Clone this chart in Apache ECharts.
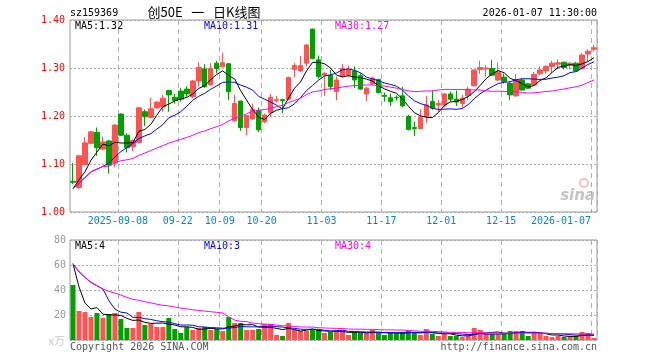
<!DOCTYPE html>
<html>
<head>
<meta charset="utf-8">
<script src="https://cdn.jsdelivr.net/npm/echarts@6/dist/echarts.min.js"></script>
<style>html,body{margin:0;padding:0;background:#fff}#c{width:660px;height:360px}</style>
</head>
<body>
<div id="c"></div>
<script>
// ---- data ----
const dates = [
'2025-08-27','2025-08-28','2025-08-29',
'2025-09-01','2025-09-02','2025-09-03','2025-09-04','2025-09-05',
'2025-09-08','2025-09-09','2025-09-10','2025-09-11','2025-09-12',
'2025-09-15','2025-09-16','2025-09-17','2025-09-18','2025-09-19',
'2025-09-22','2025-09-23','2025-09-24','2025-09-25','2025-09-26',
'2025-09-29','2025-09-30',
'2025-10-09','2025-10-10',
'2025-10-13','2025-10-14','2025-10-15','2025-10-16','2025-10-17',
'2025-10-20','2025-10-21','2025-10-22','2025-10-23','2025-10-24',
'2025-10-27','2025-10-28','2025-10-29','2025-10-30','2025-10-31',
'2025-11-03','2025-11-04','2025-11-05','2025-11-06','2025-11-07',
'2025-11-10','2025-11-11','2025-11-12','2025-11-13','2025-11-14',
'2025-11-17','2025-11-18','2025-11-19','2025-11-20','2025-11-21',
'2025-11-24','2025-11-25','2025-11-26','2025-11-27','2025-11-28',
'2025-12-01','2025-12-02','2025-12-03','2025-12-04','2025-12-05',
'2025-12-08','2025-12-09','2025-12-10','2025-12-11','2025-12-12',
'2025-12-15','2025-12-16','2025-12-17','2025-12-18','2025-12-19',
'2025-12-22','2025-12-23','2025-12-24','2025-12-25','2025-12-26',
'2025-12-29','2025-12-30','2025-12-31',
'2026-01-05','2026-01-06','2026-01-07'
];
const opens = [
1.064,1.051,1.099,1.143,1.166,1.131,1.148,1.102,1.204,1.160,
1.136,1.145,1.209,1.197,1.217,1.219,1.253,1.239,1.252,1.256,
1.240,1.273,1.298,1.265,1.310,1.303,1.309,1.190,1.231,1.176,
1.194,1.212,1.188,1.207,1.232,1.234,1.235,1.297,1.294,1.310,
1.381,1.317,1.285,1.285,1.251,1.283,1.285,1.294,1.284,1.246,
1.267,1.276,1.243,1.238,1.239,1.242,1.199,1.176,1.174,1.199,
1.230,1.223,1.223,1.246,1.235,1.226,1.242,1.263,1.297,1.298,
1.299,1.275,1.281,1.268,1.242,1.275,1.267,1.265,1.288,1.294,
1.303,1.308,1.312,1.306,1.310,1.299,1.329,1.339
];
const closes = [
1.062,1.117,1.144,1.167,1.134,1.146,1.098,1.181,1.160,1.134,
1.149,1.217,1.199,1.215,1.229,1.237,1.244,1.232,1.235,1.246,
1.273,1.301,1.261,1.299,1.299,1.311,1.251,1.226,1.176,1.201,
1.214,1.171,1.202,1.239,1.234,1.232,1.280,1.305,1.305,1.348,
1.320,1.282,1.289,1.261,1.275,1.299,1.296,1.275,1.256,1.258,
1.279,1.249,1.241,1.230,1.238,1.221,1.172,1.174,1.197,1.223,
1.216,1.226,1.246,1.235,1.229,1.237,1.256,1.296,1.301,1.300,
1.285,1.292,1.272,1.244,1.275,1.254,1.258,1.287,1.296,1.303,
1.310,1.311,1.301,1.310,1.294,1.327,1.335,1.342
];
const lows = [
1.058,1.048,1.097,1.141,1.117,1.129,1.080,1.094,1.158,1.124,
1.127,1.143,1.179,1.195,1.215,1.209,1.209,1.226,1.230,1.240,
1.237,1.261,1.259,1.263,1.289,1.301,1.233,1.188,1.169,1.160,
1.192,1.167,1.185,1.199,1.228,1.206,1.233,1.281,1.292,1.303,
1.318,1.278,1.242,1.254,1.233,1.281,1.282,1.258,1.254,1.231,
1.265,1.247,1.230,1.221,1.232,1.219,1.170,1.158,1.173,1.186,
1.213,1.209,1.218,1.230,1.221,1.218,1.233,1.261,1.288,1.282,
1.283,1.273,1.268,1.233,1.240,1.253,1.256,1.263,1.285,1.288,
1.289,1.297,1.297,1.297,1.293,1.297,1.313,1.334
];
const highs = [
1.102,1.119,1.156,1.169,1.176,1.157,1.150,1.183,1.206,1.164,
1.151,1.219,1.214,1.238,1.231,1.244,1.254,1.246,1.258,1.262,
1.275,1.312,1.308,1.310,1.315,1.332,1.310,1.244,1.232,1.202,
1.226,1.218,1.205,1.246,1.242,1.236,1.282,1.310,1.325,1.349,
1.382,1.326,1.291,1.296,1.282,1.308,1.305,1.303,1.289,1.261,
1.282,1.278,1.249,1.247,1.243,1.261,1.202,1.188,1.214,1.242,
1.254,1.233,1.248,1.251,1.253,1.244,1.261,1.297,1.315,1.306,
1.317,1.311,1.288,1.272,1.287,1.278,1.268,1.292,1.303,1.306,
1.315,1.318,1.313,1.312,1.313,1.331,1.339,1.348
];
const volumes = [
44,23.2,22.4,18.4,21.6,17.6,20.8,21.6,16.8,9.6,
9.6,22.4,12,12.8,10.4,10.4,17.6,8.8,5.6,10.4,
8,9.6,10.4,8,8.8,7.2,18.4,13.6,13.6,8,
8,8.8,12.8,12.8,4,3.2,13.6,8,7.2,7.2,
8,8,5.6,6.4,7.2,7.2,4,6.4,5.6,5.6,
8,5.6,4,5.6,5.6,6.4,7.2,5.6,4,8.8,
4.8,3.2,4.8,3.2,3.2,2.4,3.2,9.6,8,4.8,
4.8,4.8,4.8,7.2,7.2,7.2,3.2,6.4,4.8,3.2,
2.4,3.2,2.4,3.2,3.2,6.4,5.6,1.6
];
// sessions traded before the first visible day (used only by the moving averages)
const priorCloses = [1.025,1.059,1.047,1.049];
const priorVolumes = [115,88,42,16];

const tickDates  = ['2025-09-08','2025-09-22','2025-10-09','2025-10-20','2025-11-03','2025-11-17','2025-12-01','2025-12-15','2026-01-07'];
const tickLabels = ['2025-09-08','09-22','10-09','10-20','11-03','11-17','12-01','12-15','2026-01-07'];
const priceTicks = [1.00,1.10,1.20,1.30,1.40];
const volTicks = [0,20,40,60,80];
const priceMaText = ['MA5:1.32','MA10:1.31','MA30:1.27'];
const volMaText = ['MA5:4','MA10:3','MA30:4'];
const maPeriods = [5,10,30];

// ---- helpers ----
function movingAvg(vals, prior, n) {
  const all = prior.concat(vals);
  const out = [];
  for (let i = 0; i < vals.length; i++) {
    const end = prior.length + i;
    const start = Math.max(0, end - n + 1);
    let s = 0;
    for (let j = start; j <= end; j++) s += all[j];
    out.push(+(s / (end - start + 1)).toFixed(4));
  }
  return out;
}
const UP = '#ff5252', DOWN = '#00a000';
const maColors = ['#000000','#0000ff','#ff00ff'];
const MONO = 'DejaVu Sans Mono';

const kData = opens.map((o, i) => [o, closes[i], lows[i], highs[i]]);
const volData = volumes.map((v, i) => ({value: v, itemStyle: {color: closes[i] >= opens[i] ? UP : DOWN}}));

const gridLine = {show: true, lineStyle: {color: '#aaaaaa', type: [2, 2], width: 1}};
const vLine = {show: true, interval: (idx, val) => tickDates.indexOf(dates[idx]) >= 0, lineStyle: {color: '#b0b0b0', type: [5, 4], width: 1}};

const series = [{
  type: 'candlestick', xAxisIndex: 0, yAxisIndex: 0, data: kData, barWidth: 5,
  itemStyle: {color: UP, color0: DOWN, borderColor: UP, borderColor0: DOWN, borderWidth: 1}
}];
maPeriods.forEach((n, k) => series.push({
  type: 'line', xAxisIndex: 0, yAxisIndex: 0, data: movingAvg(closes, priorCloses, n),
  symbol: 'none', lineStyle: {color: maColors[k], width: 1}, clip: true
}));
series.push({type: 'bar', xAxisIndex: 1, yAxisIndex: 1, data: volData, barWidth: 5});
maPeriods.forEach((n, k) => series.push({
  type: 'line', xAxisIndex: 1, yAxisIndex: 1, data: movingAvg(volumes, priorVolumes, n),
  symbol: 'none', lineStyle: {color: maColors[k], width: 1}, clip: true
}));

const txt = (x, y, s, color, extra) => ({
  type: 'text', x: x, y: y, silent: true,
  style: Object.assign({text: s, fill: color, font: '10px "' + MONO + '"', textVerticalAlign: 'middle', verticalAlign: 'middle'}, extra || {})
});

const graphics = [
  txt(70, 13, 'sz159369', '#000'),
  txt(204, 12, '创50E   一   日K线图', '#000', {font: '13px "Noto Sans CJK SC"', textAlign: 'center', align: 'center'}),
  txt(597, 13, '2026-01-07 11:30:00', '#000', {textAlign: 'right', align: 'right'}),
  txt(75, 26, priceMaText[0], maColors[0]),
  txt(204, 26, priceMaText[1], maColors[1]),
  txt(335, 26, priceMaText[2], maColors[2]),
  txt(75, 246, volMaText[0], maColors[0]),
  txt(204, 246, volMaText[1], maColors[1]),
  txt(335, 246, volMaText[2], maColors[2]),
  txt(65, 341, 'x万', '#c8c8c8', {textAlign: 'right', align: 'right', font: '11px "Noto Sans CJK SC"'}),
  txt(70, 347, 'Copyright 2026 SINA.COM', '#555'),
  txt(597, 347, 'http://finance.sina.com.cn', '#555', {textAlign: 'right', align: 'right'}),
  {type: 'circle', silent: true, shape: {cx: 584, cy: 183, r: 4}, style: {fill: 'none', stroke: '#f4c0c0', lineWidth: 2}},
  txt(595, 196, 'sina', '#c4c4c4', {textAlign: 'right', align: 'right', font: 'italic bold 15px "DejaVu Sans"'})
];

const chart = echarts.init(document.getElementById('c'), null, {renderer: 'canvas'});
chart.setOption({
  animation: false,
  backgroundColor: '#fff',
  grid: [
    {left: 70, right: 63, top: 20, height: 192, show: true, borderColor: '#999', borderWidth: 1, backgroundColor: 'transparent'},
    {left: 70, right: 63, top: 240, height: 100, show: true, borderColor: '#999', borderWidth: 1, backgroundColor: 'transparent'}
  ],
  xAxis: [
    {type: 'category', gridIndex: 0, data: dates, boundaryGap: true,
     axisLine: {show: false}, axisTick: {show: false},
     axisLabel: {
       interval: (idx, val) => tickDates.indexOf(val) >= 0,
       formatter: (val) => {
         const k = tickDates.indexOf(val);
         if (k < 0) return '';
         return (k === tickDates.length - 1 ? '{e|' : '{m|') + tickLabels[k] + '}';
       },
       margin: 4,
       rich: {
         m: {color: '#0a84d0', fontFamily: MONO, fontSize: 10, padding: [0, 6, 0, 0]},
         e: {color: '#0a84d0', fontFamily: MONO, fontSize: 10, padding: [0, 66, 0, 0]}
       }
     },
     splitLine: vLine},
    {type: 'category', gridIndex: 1, data: dates, boundaryGap: true,
     axisLine: {show: false}, axisTick: {show: false}, axisLabel: {show: false},
     splitLine: vLine}
  ],
  yAxis: [
    {type: 'value', gridIndex: 0, min: priceTicks[0], max: priceTicks[priceTicks.length - 1], interval: 0.1,
     axisLine: {show: false}, axisTick: {show: false},
     axisLabel: {color: '#ff0000', fontFamily: MONO, fontSize: 10, margin: 5, formatter: v => v.toFixed(2)},
     splitLine: gridLine},
    {type: 'value', gridIndex: 1, min: volTicks[0], max: volTicks[volTicks.length - 1], interval: 20,
     axisLine: {show: false}, axisTick: {show: false},
     axisLabel: {color: '#999999', fontFamily: MONO, fontSize: 10, margin: 4, formatter: v => (v === 0 ? '' : String(v))},
     splitLine: gridLine}
  ],
  series: series,
  graphic: graphics
});
</script>
</body>
</html>
